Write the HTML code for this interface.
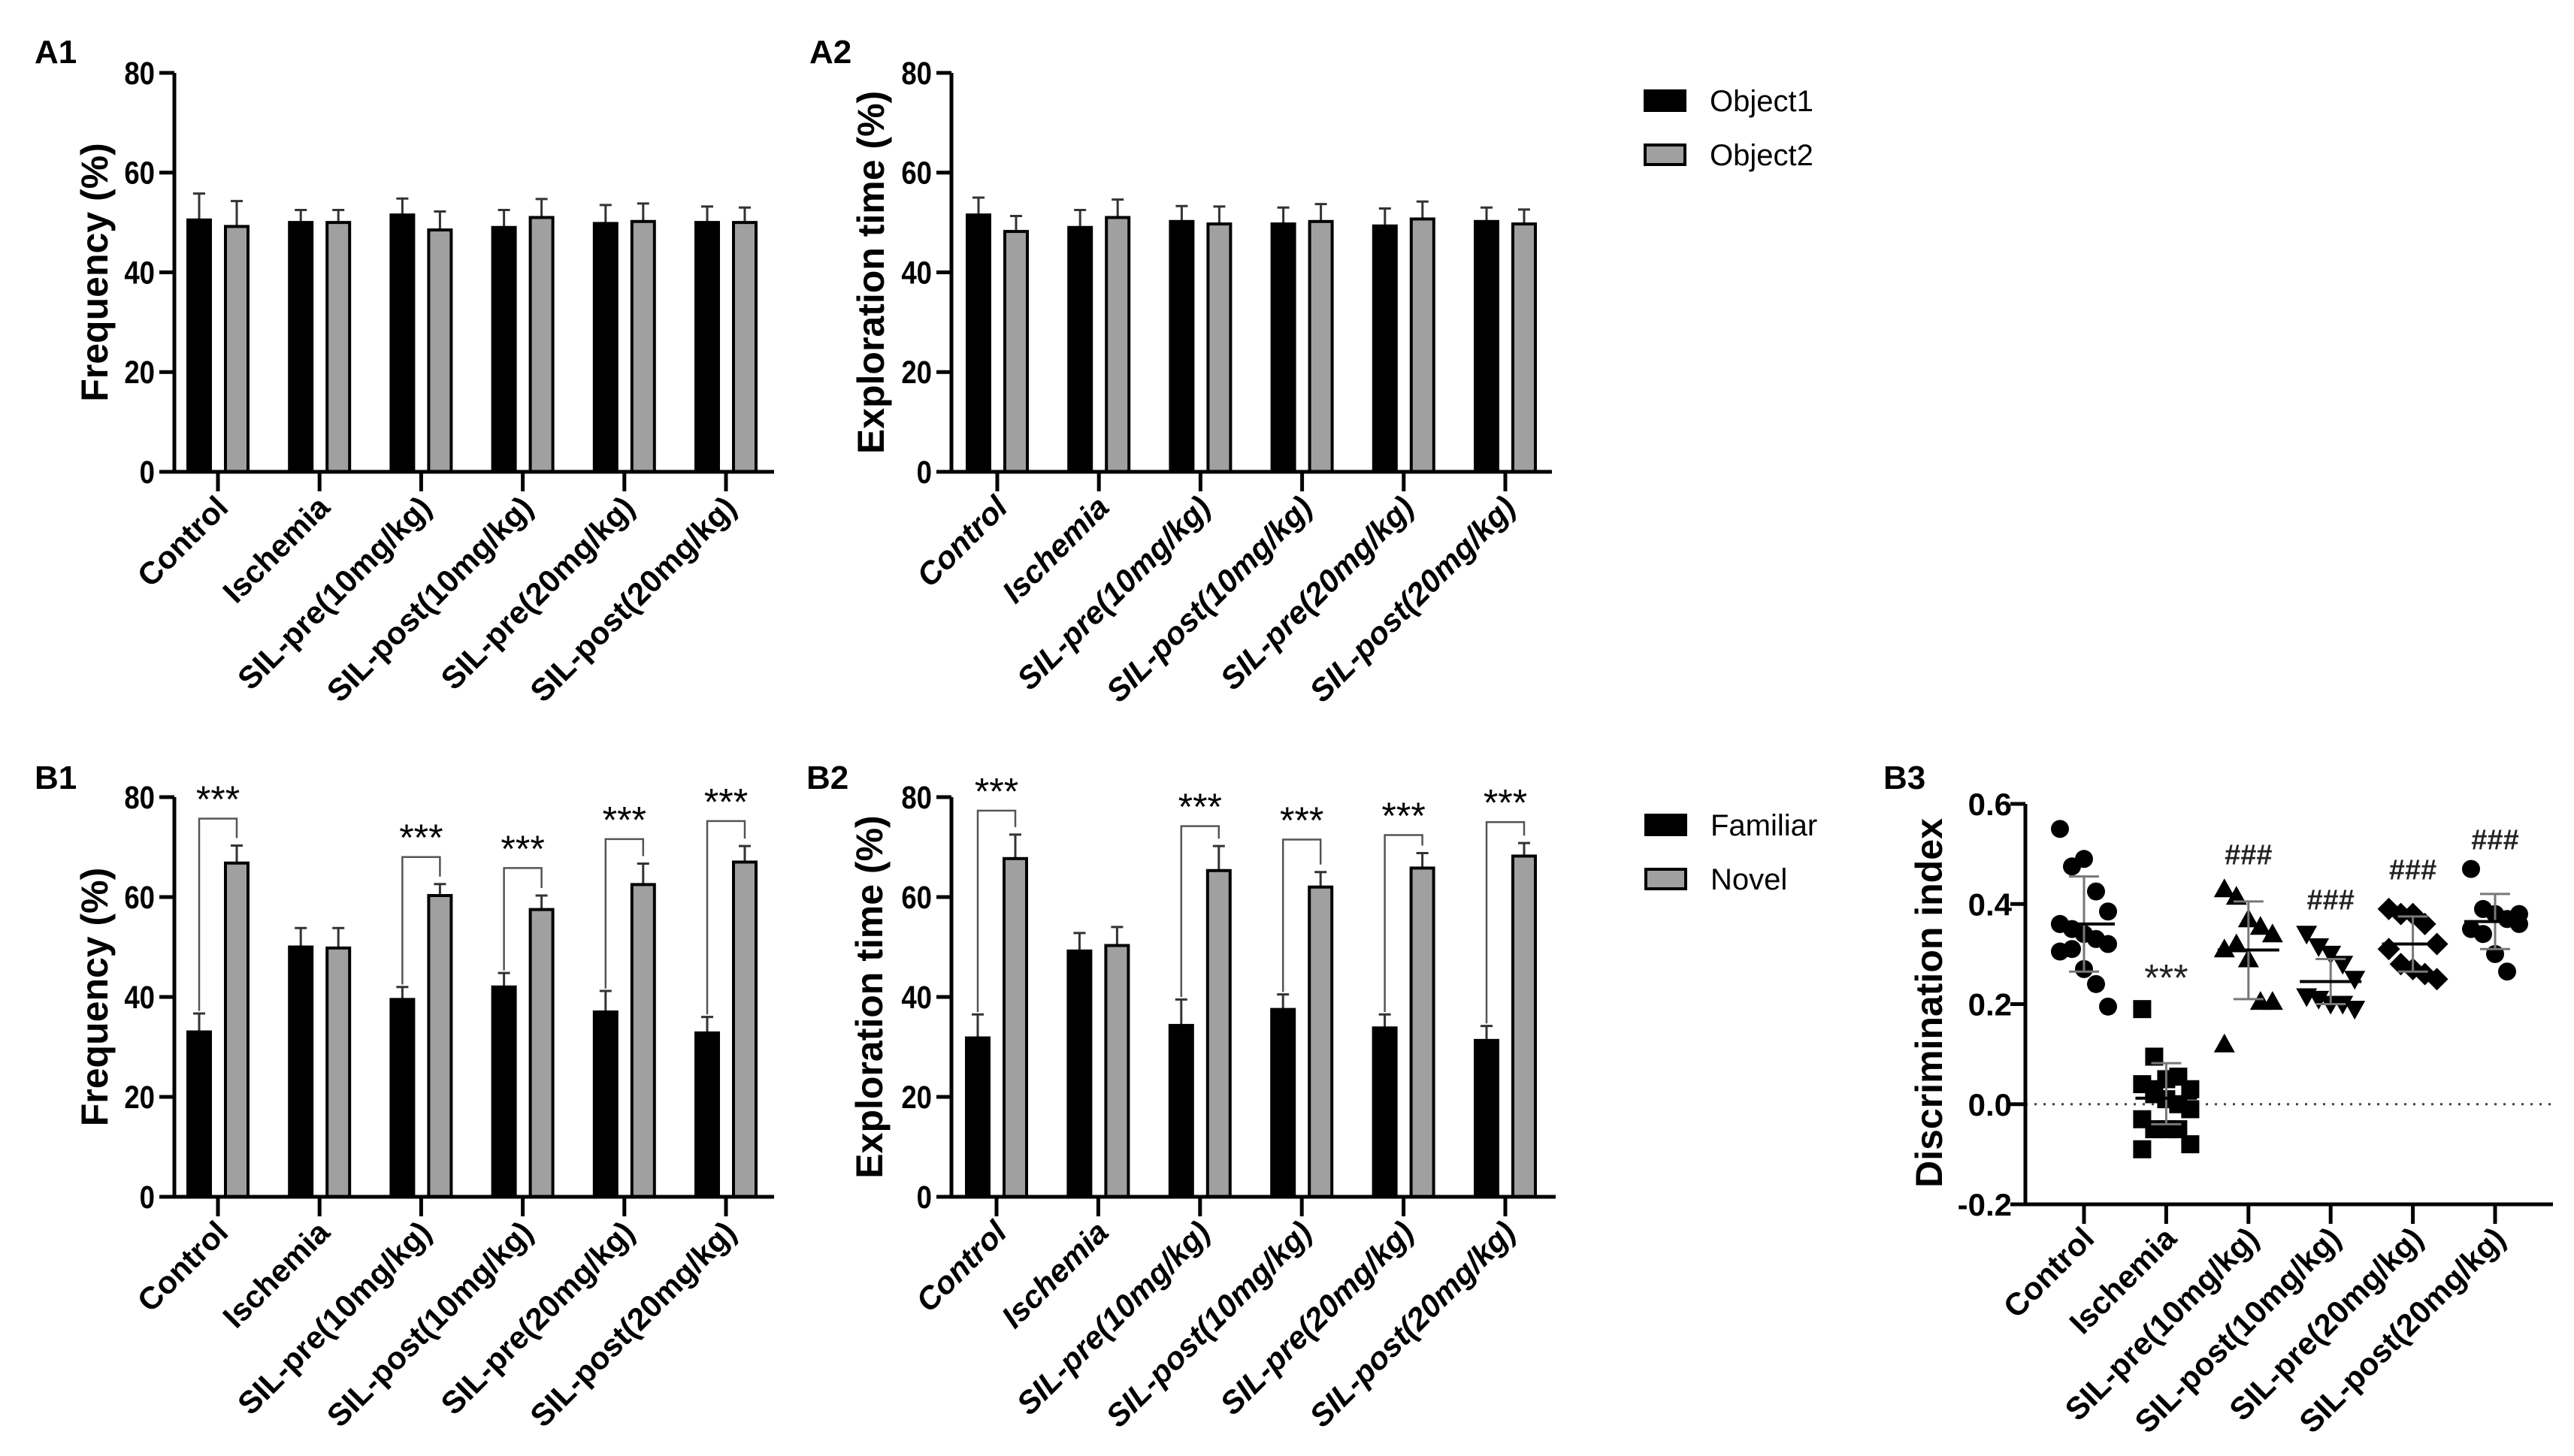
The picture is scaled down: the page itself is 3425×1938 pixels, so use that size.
<!DOCTYPE html>
<html><head><meta charset="utf-8">
<style>
html,body{margin:0;padding:0;background:#fff;}
svg{display:block;font-family:"Liberation Sans",Arial,sans-serif;}
</style></head>
<body>
<svg id="fig" width="3425" height="1938" viewBox="0 0 3425 1938" xmlns="http://www.w3.org/2000/svg"></svg>
<script>
// ---- data ----
const groups = ["Control","Ischemia","SIL-pre(10mg/kg)","SIL-post(10mg/kg)","SIL-pre(20mg/kg)","SIL-post(20mg/kg)"];
const yTicks = [0,20,40,60,80];
const a1Obj1 = [50.5,50,51.5,49,49.8,50];
const a1Obj1Err = [55.8,52.5,54.8,52.5,53.5,53.2];
const a1Obj2 = [49.2,50,48.5,51,50.2,50];
const a1Obj2Err = [54.3,52.5,52.2,54.7,53.8,53];
const a2Obj1 = [51.5,49,50.2,49.7,49.3,50.2];
const a2Obj1Err = [55,52.5,53.3,53,52.8,53];
const a2Obj2 = [48.2,51,49.7,50.2,50.7,49.7];
const a2Obj2Err = [51.3,54.6,53.2,53.7,54.2,52.6];
const b1Fam = [33,50,39.5,42,37,32.8];
const b1FamErr = [36.7,53.8,42,44.8,41.2,36];
const b1Nov = [66.8,49.8,60.3,57.5,62.5,67];
const b1NovErr = [70.3,53.8,62.6,60.3,66.7,70.2];
const b1Bracket = [75.7,null,68,65.8,71.6,75.2];
const b2Fam = [31.8,49.2,34.3,37.5,33.8,31.3];
const b2FamErr = [36.5,52.8,39.5,40.5,36.5,34.2];
const b2Nov = [67.7,50.3,65.3,62,65.8,68.2];
const b2NovErr = [72.5,54,70.2,65,68.8,70.8];
const b2Bracket = [77.3,null,74.2,71.5,72.4,75];
const b3Ticks = [-0.2,0.0,0.2,0.4,0.6];
const b3Points = [
  [0.55,0.475,0.49,0.425,0.385,0.36,0.35,0.34,0.33,0.32,0.305,0.31,0.27,0.24,0.195,0.36],
  [0.19,0.095,0.05,0.055,0.03,0.04,0.02,0.01,0.0,-0.01,-0.03,-0.05,-0.05,-0.05,-0.08,-0.09,0.03],
  [0.43,0.415,0.37,0.355,0.34,0.31,0.32,0.29,0.205,0.205,0.12],
  [0.34,0.315,0.30,0.28,0.25,0.215,0.21,0.20,0.20,0.19],
  [0.39,0.38,0.38,0.36,0.32,0.31,0.28,0.27,0.26,0.25],
  [0.47,0.39,0.38,0.37,0.36,0.35,0.34,0.30,0.265,0.38]
];
const b3Mean = [0.36,0.012,0.308,0.245,0.32,0.365];
const b3SdLow = [0.265,-0.04,0.21,0.2,0.265,0.31];
const b3SdHigh = [0.455,0.082,0.405,0.29,0.375,0.42];
const b3Marks = ["", "***", "###", "###", "###", "###"];
const b3MarkY = [null,0.26,0.5,0.41,0.47,0.53];
const b3Shapes = ["circle","square","tri","itri","diamond","circle"];

// ---- helpers ----
const NS="http://www.w3.org/2000/svg";
const svg=document.getElementById('fig');
function mk(tag,attrs,parent){const e=document.createElementNS(NS,tag);for(const k in attrs)e.setAttribute(k,attrs[k]);(parent||svg).appendChild(e);return e;}
function txt(s,attrs,parent){const e=mk('text',attrs,parent);e.textContent=s;return e;}

function barPanel(o){
  const g=mk('g',{});
  
  
  const y=v=>o.y0-(v/80)*(o.y0-o.y80);
  const cx=i=>o.x0+i*o.step;
  const lab=txt(o.label,{x:46+o.dx,y:o.labelY,'font-size':44,'font-weight':'bold'},g);
  
  
  const series=[[o.s1,o.e1,'#000',-25],[o.s2,o.e2,'#a0a0a0',25]];
  series.forEach((s,si)=>{
    s[0].forEach((v,i)=>{
      const x=cx(i)+s[3];
      const eb=mk('path',{d:`M${x} ${y(v)} V${y(s[1][i])} M${x-8} ${y(s[1][i])} H${x+8}`,stroke:'#333','stroke-width':3,fill:'none'},g);
      
      
      const r=mk('rect',{x:x-15,y:y(v),width:30,height:y(0)-y(v),fill:s[2],stroke:'#000','stroke-width':4},g);
      
      
    });
  });
  if(o.br){
    o.br.forEach((b,i)=>{
      if(b==null)return;
      const xl=cx(i)-25,xr=cx(i)+25;
      const p=mk('path',{d:`M${xl} ${y(o.e1[i]+0.5)} V${y(b)} H${xr} V${y(o.e2[i]+1.5)}`,stroke:'#555','stroke-width':2.5,fill:'none'},g);
      
      
      const t=txt('***',{x:cx(i),y:y(b+4.6)+22,'text-anchor':'middle','font-size':50},g);
      
      
    });
  }
  const ax=mk('path',{d:`M${o.ax} ${o.y80} V${o.y0+2} M${o.ax-2} ${o.y0} H${o.xend}`,stroke:'#000','stroke-width':5,fill:'none'},g);
  
  
  yTicks.forEach(t=>{
    mk('line',{x1:o.ax-20,x2:o.ax,y1:y(t),y2:y(t),stroke:'#000','stroke-width':5},g);
    const tl=txt(String(t),{x:o.ax-26,y:y(t)+15,'text-anchor':'end','font-size':43,'font-weight':'bold',transform:`translate(${o.ax-26} 0) scale(0.85 1) translate(${-(o.ax-26)} 0)`},g);
    
    
  });
  groups.forEach((gname,i)=>{
    mk('line',{x1:cx(i),x2:cx(i),y1:o.y0,y2:o.y0+26,stroke:'#000','stroke-width':5},g);
    const px=cx(i)+16,py=o.y0+50;
    const tl=txt(gname,{x:px,y:py,'text-anchor':'end','font-size':42,'font-weight':'bold','font-style':o.italic?'italic':'normal',transform:`rotate(-45 ${px} ${py})`},g);
    
    
  });
  const ty=(o.y0+o.y80)/2;
  const yt=txt(o.ytitle,{x:o.tx,y:ty,'text-anchor':'middle','font-size':50,'font-weight':'bold',transform:`rotate(-90 ${o.tx} ${ty})`,'dominant-baseline':'middle'},g);
  
  
}

barPanel({name:'panel-a1',label:'A1',dx:0,labelY:84,ax:232,x0:290,step:135.2,xend:1030,y0:628,y80:97,s1:a1Obj1,e1:a1Obj1Err,s2:a1Obj2,e2:a1Obj2Err,n1:'object1',n2:'object2',ytitle:'Frequency (%)',tx:130,italic:false});
barPanel({name:'panel-a2',label:'A2',dx:1031,labelY:84,ax:1266,x0:1327,step:135.2,xend:2065,y0:628,y80:97,s1:a2Obj1,e1:a2Obj1Err,s2:a2Obj2,e2:a2Obj2Err,n1:'object1',n2:'object2',ytitle:'Exploration time (%)',tx:1163,italic:true});
barPanel({name:'panel-b1',label:'B1',dx:0,labelY:1050,ax:232,x0:290,step:135.2,xend:1030,y0:1593,y80:1061,s1:b1Fam,e1:b1FamErr,s2:b1Nov,e2:b1NovErr,n1:'familiar',n2:'novel',br:b1Bracket,ytitle:'Frequency (%)',tx:130,italic:false});
barPanel({name:'panel-b2',label:'B2',dx:1027,labelY:1050,ax:1266,x0:1326,step:135.4,xend:2070,y0:1593,y80:1061,s1:b2Fam,e1:b2FamErr,s2:b2Nov,e2:b2NovErr,n1:'familiar',n2:'novel',br:b2Bracket,ytitle:'Exploration time (%)',tx:1161,italic:true});

function legend(x,y1,y2,l1,l2,name){
  const g=mk('g',{});
  
  
  const r1=mk('rect',{x:x,y:y1-13,width:53,height:26,fill:'#000',stroke:'#000','stroke-width':4},g);
  
  
  const t1=txt(l1,{x:x+86,y:y1+14,'font-size':40},g);
  
  
  const r2=mk('rect',{x:x,y:y2-13,width:53,height:26,fill:'#a0a0a0',stroke:'#000','stroke-width':4},g);
  
  
  const t2=txt(l2,{x:x+86,y:y2+14,'font-size':40},g);
  
  
}
legend(2189,134,206,'Object1','Object2','legend-objects');
legend(2190,1098,1170,'Familiar','Novel','legend-familiar-novel');

(function(){
  const g=mk('g',{});
  
  
  const ax=2695,xend=3397,yTop=1070,yBot=1603;
  const y=v=>yBot-(v+0.2)/0.8*(yBot-yTop);
  const cx=i=>2773+i*109.4;
  const lab=txt('B3',{x:2506,y:1050,'font-size':44,'font-weight':'bold'},g);
  
  
  const dl=mk('line',{x1:ax,x2:xend,y1:y(0),y2:y(0),stroke:'#444','stroke-width':3,'stroke-dasharray':'3 9'},g);
  
  
  function marker(shape,x,yy){
    const s=12;
    if(shape=='circle')return mk('circle',{cx:x,cy:yy,r:s},g);
    if(shape=='square')return mk('rect',{x:x-s,y:yy-s,width:2*s,height:2*s},g);
    if(shape=='tri')return mk('polygon',{points:`${x},${yy-s-2} ${x-s-2},${yy+s-1} ${x+s+2},${yy+s-1}`},g);
    if(shape=='itri')return mk('polygon',{points:`${x},${yy+s+2} ${x-s-2},${yy-s+1} ${x+s+2},${yy-s+1}`},g);
    return mk('polygon',{points:`${x},${yy-s-3} ${x+s+3},${yy} ${x},${yy+s+3} ${x-s-3},${yy}`},g);
  }
  b3Points.forEach((pts,i)=>{
    pts.forEach((v,j)=>{
      const off=((j%5)-2)*16;
      const m=marker(b3Shapes[i],cx(i)+off,y(v));
      m.setAttribute('fill','#000');
      
      
    });
    const sd=mk('path',{d:`M${cx(i)} ${y(b3SdLow[i])} V${y(b3SdHigh[i])} M${cx(i)-20} ${y(b3SdHigh[i])} H${cx(i)+20} M${cx(i)-20} ${y(b3SdLow[i])} H${cx(i)+20}`,stroke:'#777','stroke-width':3,fill:'none'},g);
    
    
    const mn=mk('line',{x1:cx(i)-41,x2:cx(i)+41,y1:y(b3Mean[i]),y2:y(b3Mean[i]),stroke:'#000','stroke-width':4},g);
    
    
    if(b3MarkY[i]!=null){
      const t=txt(b3Marks[i],{x:cx(i),y:y(b3MarkY[i])+(b3Marks[i]=='***'?22:14),'text-anchor':'middle','font-size':b3Marks[i]=='***'?50:38,'font-weight':b3Marks[i]=='***'?'normal':'bold',fill:'#222'},g);
      
      
    }
  });
  const axp=mk('path',{d:`M${ax} ${yTop} V${yBot+2} M${ax-2} ${yBot} H${xend}`,stroke:'#000','stroke-width':5,fill:'none'},g);
  
  
  b3Ticks.forEach(t=>{
    mk('line',{x1:ax-20,x2:ax,y1:y(t),y2:y(t),stroke:'#000','stroke-width':5},g);
    const tl=txt(t.toFixed(1),{x:2677,y:y(t)+15,'text-anchor':'end','font-size':42,'font-weight':'bold'},g);
    
    
  });
  groups.forEach((gname,i)=>{
    mk('line',{x1:cx(i),x2:cx(i),y1:yBot,y2:yBot+26,stroke:'#000','stroke-width':5},g);
    const px=cx(i)+16,py=yBot+48;
    const tl=txt(gname,{x:px,y:py,'text-anchor':'end','font-size':42,'font-weight':'bold',transform:`rotate(-45 ${px} ${py})`},g);
    
    
  });
  const ty=1335;
  const yt=txt('Discrimination index',{x:2571,y:ty,'text-anchor':'middle','font-size':50,'font-weight':'bold',transform:`rotate(-90 2571 ${ty})`,'dominant-baseline':'middle'},g);
  
  
})();
</script>
</body></html>
